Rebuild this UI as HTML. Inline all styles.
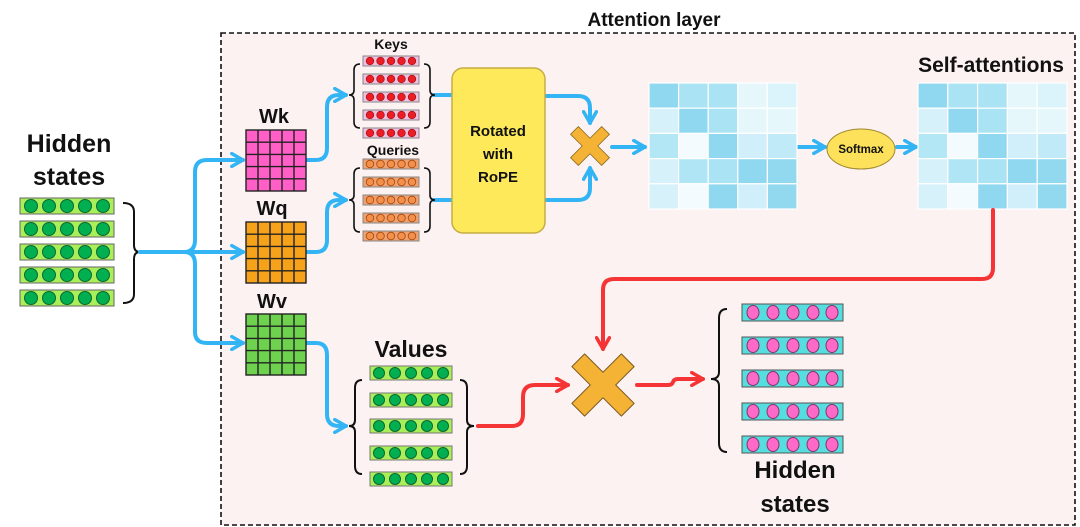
<!DOCTYPE html>
<html><head><meta charset="utf-8"><style>
html,body{margin:0;padding:0;background:#fff}
svg{display:block}
text{font-family:"Liberation Sans",sans-serif;font-weight:bold;fill:#111}
</style></head><body>
<svg width="1080" height="527" viewBox="0 0 1080 527" xmlns="http://www.w3.org/2000/svg">
<defs>
<marker id="ab" viewBox="0 0 10 10" refX="8" refY="5" markerWidth="4" markerHeight="4" orient="auto"><path d="M1,1 L8,5 L1,9" fill="none" stroke="#33b5f5" stroke-width="2.2" stroke-linecap="round" stroke-linejoin="round"/></marker>
<marker id="ar" viewBox="0 0 10 10" refX="8" refY="5" markerWidth="4" markerHeight="4" orient="auto"><path d="M1,1 L8,5 L1,9" fill="none" stroke="#f53535" stroke-width="2.2" stroke-linecap="round" stroke-linejoin="round"/></marker>
<path id="gl" d="M12,0 V61 M24,0 V61 M36,0 V61 M48,0 V61 M0,12.2 H60 M0,24.4 H60 M0,36.6 H60 M0,48.8 H60" fill="none" stroke="#222" stroke-width="1.4"/>
</defs>
<rect x="221" y="33" width="854" height="492" fill="#fdf2f2" stroke="#111" stroke-width="1.6" stroke-dasharray="5,3"/>
<text x="654" y="26" font-size="19" text-anchor="middle">Attention layer</text>

<!-- left hidden states -->
<text x="69" y="152" font-size="25" text-anchor="middle">Hidden</text>
<text x="69" y="185" font-size="25" text-anchor="middle">states</text>
<g stroke="#666" stroke-width="1">
<rect x="20" y="198" width="94" height="16" fill="#a8ef5a"/>
<rect x="20" y="221" width="94" height="16" fill="#a8ef5a"/>
<rect x="20" y="244" width="94" height="16" fill="#a8ef5a"/>
<rect x="20" y="267" width="94" height="16" fill="#a8ef5a"/>
<rect x="20" y="290" width="94" height="16" fill="#a8ef5a"/>
</g>
<g fill="#00b050" stroke="#116633" stroke-width="1">
<g id="ld"><circle cx="31" cy="206" r="6.5"/><circle cx="49" cy="206" r="6.5"/><circle cx="67" cy="206" r="6.5"/><circle cx="85" cy="206" r="6.5"/><circle cx="103" cy="206" r="6.5"/></g>
<use href="#ld" y="23"/><use href="#ld" y="46"/><use href="#ld" y="69"/><use href="#ld" y="92"/>
</g>
<path d="M123,203 Q134,203 134,212 L134,245 Q134,252 140,252 Q134,252 134,259 L134,294 Q134,303 123,303" fill="none" stroke="#111" stroke-width="2"/>

<!-- blue fan -->
<g fill="none" stroke="#33b5f5" stroke-width="4" stroke-linecap="round">
<path d="M140,252 L243,252" marker-end="url(#ab)"/>
<path d="M184,252 Q195,252 195,240 L195,172 Q195,160 207,160 L243,160" marker-end="url(#ab)"/>
<path d="M184,252 Q195,252 195,264 L195,332 Q195,343 207,343 L243,343" marker-end="url(#ab)"/>
<path d="M306,160 L316,160 Q327,160 327,148 L327,107 Q327,95 339,95 L346,95" marker-end="url(#ab)"/>
<path d="M306,252 L316,252 Q327,252 327,240 L327,212 Q327,200 339,200 L346,200" marker-end="url(#ab)"/>
<path d="M307,343 L316,343 Q327,343 327,355 L327,414 Q327,426 339,426 L346,426" marker-end="url(#ab)"/>
<path d="M434,95 L452,95"/><path d="M434,200 L452,200"/>
<path d="M545,96 L578,96 Q590,96 590,108 L590,123" marker-end="url(#ab)"/>
<path d="M545,200 L578,200 Q590,200 590,188 L590,168" marker-end="url(#ab)"/>
<path d="M612,147 L645,147" marker-end="url(#ab)"/>
<path d="M798,147 L825,147" marker-end="url(#ab)"/>
<path d="M897,147 L916,147" marker-end="url(#ab)"/>
</g>

<!-- W matrices -->
<text x="274" y="123" font-size="20" text-anchor="middle">Wk</text>
<rect x="246" y="130" width="60" height="61" fill="#ff5fc6" stroke="#222" stroke-width="1.4"/><use href="#gl" x="246" y="130"/>
<text x="272" y="215" font-size="20" text-anchor="middle">Wq</text>
<rect x="246" y="222" width="60" height="61" fill="#f7a21b" stroke="#222" stroke-width="1.4"/><use href="#gl" x="246" y="222"/>
<text x="272" y="308" font-size="20" text-anchor="middle">Wv</text>
<rect x="246" y="314" width="60" height="61" fill="#6fd24f" stroke="#222" stroke-width="1.4"/><use href="#gl" x="246" y="314"/>

<!-- Keys / Queries -->
<text x="391" y="49" font-size="14" text-anchor="middle">Keys</text>
<text x="393" y="155" font-size="14" text-anchor="middle">Queries</text>
<g stroke="#888" stroke-width="1">
<rect x="363" y="56" width="56" height="10" fill="#f0c0e0"/><rect x="363" y="74" width="56" height="10" fill="#f0c0e0"/><rect x="363" y="92" width="56" height="10" fill="#f0c0e0"/><rect x="363" y="110" width="56" height="10" fill="#f0c0e0"/><rect x="363" y="128" width="56" height="10" fill="#f0c0e0"/>
<rect x="363" y="159" width="56" height="10" fill="#f0a070"/><rect x="363" y="177" width="56" height="10" fill="#f0a070"/><rect x="363" y="195" width="56" height="10" fill="#f0a070"/><rect x="363" y="213" width="56" height="10" fill="#f0a070"/><rect x="363" y="231" width="56" height="10" fill="#f0a070"/>
</g>
<g fill="#ee1c24" stroke="#991111" stroke-width="0.7">
<g id="kd"><circle cx="370" cy="61" r="3.8"/><circle cx="380.5" cy="61" r="3.8"/><circle cx="391" cy="61" r="3.8"/><circle cx="401.5" cy="61" r="3.8"/><circle cx="412" cy="61" r="3.8"/></g>
<use href="#kd" y="18"/><use href="#kd" y="36"/><use href="#kd" y="54"/><use href="#kd" y="72"/>
</g>
<g fill="#f5904a" stroke="#a04a10" stroke-width="0.8">
<g id="qd"><circle cx="370" cy="164" r="3.8"/><circle cx="380.5" cy="164" r="3.8"/><circle cx="391" cy="164" r="3.8"/><circle cx="401.5" cy="164" r="3.8"/><circle cx="412" cy="164" r="3.8"/></g>
<use href="#qd" y="18"/><use href="#qd" y="36"/><use href="#qd" y="54"/><use href="#qd" y="72"/>
</g>
<g fill="none" stroke="#111" stroke-width="1.6">
<path d="M360,64 Q354,64 354,70 L354,90 Q354,95 349,95 Q354,95 354,100 L354,122 Q354,128 360,128"/>
<path d="M424,64 Q430,64 430,70 L430,90 Q430,95 435,95 Q430,95 430,100 L430,122 Q430,128 424,128"/>
<path d="M360,168 Q354,168 354,174 L354,195 Q354,200 349,200 Q354,200 354,205 L354,226 Q354,232 360,232"/>
<path d="M424,168 Q430,168 430,174 L430,195 Q430,200 435,200 Q430,200 430,205 L430,226 Q430,232 424,232"/>
</g>

<!-- RoPE -->
<rect x="452" y="68" width="93" height="165" rx="11" fill="#fde95a" stroke="#c5ad45" stroke-width="1.5"/>
<text x="498" y="136" font-size="15" text-anchor="middle">Rotated</text>
<text x="498" y="159" font-size="15" text-anchor="middle">with</text>
<text x="498" y="182" font-size="15" text-anchor="middle">RoPE</text>

<!-- small X -->
<g transform="translate(590,146) rotate(45)">
<path d="M-5.5,-22 L5.5,-22 L5.5,-5.5 L22,-5.5 L22,5.5 L5.5,5.5 L5.5,22 L-5.5,22 L-5.5,5.5 L-22,5.5 L-22,-5.5 L-5.5,-5.5 Z" fill="#f5b335" stroke="#8a6a20" stroke-width="0.8" stroke-linejoin="round"/>
</g>

<!-- matrix 1 -->
<g stroke="#fff" stroke-width="1.2">
<rect x="649" y="83" width="29.6" height="25.2" fill="#8fd8f0"/><rect x="678.6" y="83" width="29.6" height="25.2" fill="#a9e3f4"/><rect x="708.2" y="83" width="29.6" height="25.2" fill="#a9e3f4"/><rect x="737.8" y="83" width="29.6" height="25.2" fill="#e6f7fc"/><rect x="767.4" y="83" width="29.6" height="25.2" fill="#dbf3fa"/>
<rect x="649" y="108.2" width="29.6" height="25.2" fill="#d6f1fa"/><rect x="678.6" y="108.2" width="29.6" height="25.2" fill="#8fd8f0"/><rect x="708.2" y="108.2" width="29.6" height="25.2" fill="#a9e3f4"/><rect x="737.8" y="108.2" width="29.6" height="25.2" fill="#e6f7fc"/><rect x="767.4" y="108.2" width="29.6" height="25.2" fill="#e6f7fc"/>
<rect x="649" y="133.4" width="29.6" height="25.2" fill="#b4e7f6"/><rect x="678.6" y="133.4" width="29.6" height="25.2" fill="#f3fbfe"/><rect x="708.2" y="133.4" width="29.6" height="25.2" fill="#8fd8f0"/><rect x="737.8" y="133.4" width="29.6" height="25.2" fill="#d0effa"/><rect x="767.4" y="133.4" width="29.6" height="25.2" fill="#c0eaf7"/>
<rect x="649" y="158.6" width="29.6" height="25.2" fill="#d6f1fa"/><rect x="678.6" y="158.6" width="29.6" height="25.2" fill="#b0e5f5"/><rect x="708.2" y="158.6" width="29.6" height="25.2" fill="#a9e3f4"/><rect x="737.8" y="158.6" width="29.6" height="25.2" fill="#8fd8f0"/><rect x="767.4" y="158.6" width="29.6" height="25.2" fill="#92d9f0"/>
<rect x="649" y="183.8" width="29.6" height="25.2" fill="#d6f1fa"/><rect x="678.6" y="183.8" width="29.6" height="25.2" fill="#f3fbfe"/><rect x="708.2" y="183.8" width="29.6" height="25.2" fill="#8fd8f0"/><rect x="737.8" y="183.8" width="29.6" height="25.2" fill="#d0effa"/><rect x="767.4" y="183.8" width="29.6" height="25.2" fill="#92d9f0"/>
</g>

<!-- softmax -->
<ellipse cx="861" cy="149" rx="34" ry="20" fill="#fde15a" stroke="#a08a30" stroke-width="1"/>
<text x="861" y="153" font-size="11.5" text-anchor="middle">Softmax</text>

<!-- matrix 2 -->
<text x="991" y="72" font-size="21" text-anchor="middle">Self-attentions</text>
<g stroke="#fff" stroke-width="1.2">
<rect x="918" y="83" width="29.8" height="25.2" fill="#8fd8f0"/><rect x="947.8" y="83" width="29.8" height="25.2" fill="#a9e3f4"/><rect x="977.6" y="83" width="29.8" height="25.2" fill="#a9e3f4"/><rect x="1007.4" y="83" width="29.8" height="25.2" fill="#e6f7fc"/><rect x="1037.2" y="83" width="29.8" height="25.2" fill="#dbf3fa"/>
<rect x="918" y="108.2" width="29.8" height="25.2" fill="#d6f1fa"/><rect x="947.8" y="108.2" width="29.8" height="25.2" fill="#8fd8f0"/><rect x="977.6" y="108.2" width="29.8" height="25.2" fill="#a9e3f4"/><rect x="1007.4" y="108.2" width="29.8" height="25.2" fill="#e6f7fc"/><rect x="1037.2" y="108.2" width="29.8" height="25.2" fill="#e6f7fc"/>
<rect x="918" y="133.4" width="29.8" height="25.2" fill="#b4e7f6"/><rect x="947.8" y="133.4" width="29.8" height="25.2" fill="#f3fbfe"/><rect x="977.6" y="133.4" width="29.8" height="25.2" fill="#8fd8f0"/><rect x="1007.4" y="133.4" width="29.8" height="25.2" fill="#d0effa"/><rect x="1037.2" y="133.4" width="29.8" height="25.2" fill="#c0eaf7"/>
<rect x="918" y="158.6" width="29.8" height="25.2" fill="#d6f1fa"/><rect x="947.8" y="158.6" width="29.8" height="25.2" fill="#b0e5f5"/><rect x="977.6" y="158.6" width="29.8" height="25.2" fill="#a9e3f4"/><rect x="1007.4" y="158.6" width="29.8" height="25.2" fill="#8fd8f0"/><rect x="1037.2" y="158.6" width="29.8" height="25.2" fill="#92d9f0"/>
<rect x="918" y="183.8" width="29.8" height="25.2" fill="#d6f1fa"/><rect x="947.8" y="183.8" width="29.8" height="25.2" fill="#f3fbfe"/><rect x="977.6" y="183.8" width="29.8" height="25.2" fill="#8fd8f0"/><rect x="1007.4" y="183.8" width="29.8" height="25.2" fill="#d0effa"/><rect x="1037.2" y="183.8" width="29.8" height="25.2" fill="#92d9f0"/>
</g>

<!-- red lines -->
<g fill="none" stroke="#f53535" stroke-width="4" stroke-linecap="round">
<path d="M993,210 L993,268 Q993,279 982,279 L614,279 Q603,279 603,290 L603,349" marker-end="url(#ar)"/>
<path d="M478,426 L512,426 Q523,426 523,414 L523,397 Q523,385 535,385 L568,385" marker-end="url(#ar)"/>
<path d="M637,385 L668,385 Q672,385 673,382 Q674,379 678,379 L703,379" marker-end="url(#ar)"/>
</g>

<!-- big X -->
<g transform="translate(603,385) rotate(45)">
<path d="M-9,-35 L9,-35 L9,-9 L35,-9 L35,9 L9,9 L9,35 L-9,35 L-9,9 L-35,9 L-35,-9 L-9,-9 Z" fill="#f5b335" stroke="#7a5a20" stroke-width="1" stroke-linejoin="round"/>
</g>

<!-- Values -->
<text x="411" y="357" font-size="23" text-anchor="middle">Values</text>
<g stroke="#777" stroke-width="1" fill="#a8ef5a">
<rect x="370" y="366" width="82" height="14"/><rect x="370" y="393" width="82" height="14"/><rect x="370" y="419" width="82" height="14"/><rect x="370" y="446" width="82" height="14"/><rect x="370" y="472" width="82" height="14"/>
</g>
<g fill="#00b050" stroke="#116633" stroke-width="1">
<g id="vd"><circle cx="379" cy="373" r="5.5"/><circle cx="395" cy="373" r="5.5"/><circle cx="411" cy="373" r="5.5"/><circle cx="427" cy="373" r="5.5"/><circle cx="443" cy="373" r="5.5"/></g>
<use href="#vd" y="27"/><use href="#vd" y="53"/><use href="#vd" y="80"/><use href="#vd" y="106"/>
</g>
<g fill="none" stroke="#111" stroke-width="2">
<path d="M362,380 Q355,380 355,388 L355,420 Q355,426 349,426 Q355,426 355,432 L355,466 Q355,474 362,474"/>
<path d="M460,380 Q467,380 467,388 L467,420 Q467,426 474,426 Q467,426 467,432 L467,466 Q467,474 460,474"/>
<path d="M727,309 Q719,309 719,318 L719,372 Q719,379 711,379 Q719,379 719,386 L719,443 Q719,452 727,452"/>
</g>

<!-- output hidden states -->
<g stroke="#555" stroke-width="1" fill="#55dde0">
<rect x="742" y="304" width="101" height="17"/><rect x="742" y="337" width="101" height="17"/><rect x="742" y="370" width="101" height="17"/><rect x="742" y="403" width="101" height="17"/><rect x="742" y="436" width="101" height="17"/>
</g>
<g fill="#ff6ac8" stroke="#883366" stroke-width="1">
<g id="hd"><ellipse cx="753" cy="312.5" rx="6" ry="7"/><ellipse cx="773" cy="312.5" rx="6" ry="7"/><ellipse cx="793" cy="312.5" rx="6" ry="7"/><ellipse cx="813" cy="312.5" rx="6" ry="7"/><ellipse cx="832" cy="312.5" rx="6" ry="7"/></g>
<use href="#hd" y="33"/><use href="#hd" y="66"/><use href="#hd" y="99"/><use href="#hd" y="132"/>
</g>
<text x="795" y="478" font-size="24" text-anchor="middle">Hidden</text>
<text x="795" y="512" font-size="24" text-anchor="middle">states</text>
</svg>
</body></html>
